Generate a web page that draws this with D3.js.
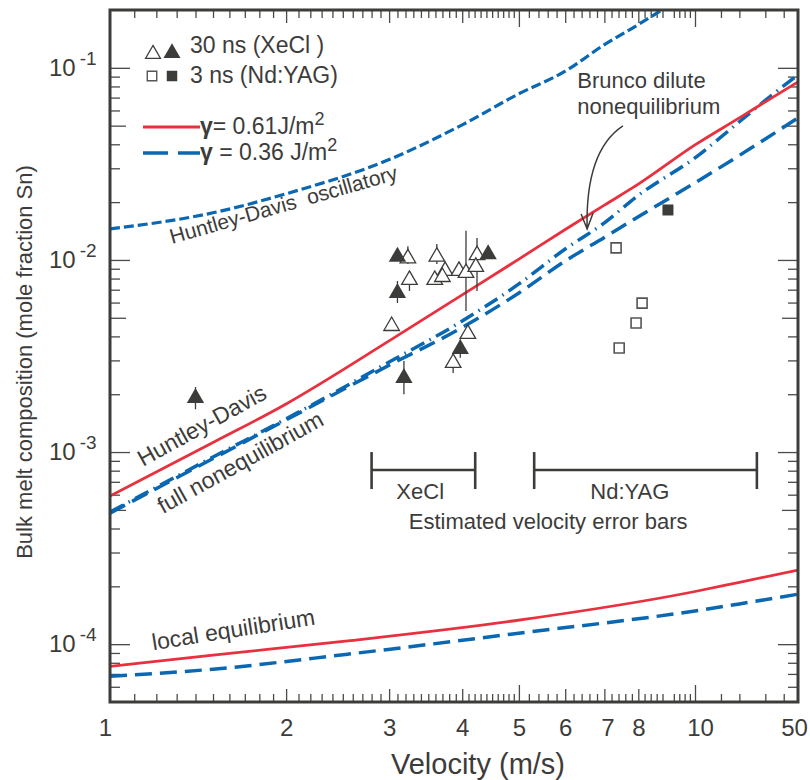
<!DOCTYPE html>
<html>
<head>
<meta charset="utf-8">
<title>Bulk melt composition vs velocity</title>
<script src="https://cdn.jsdelivr.net/npm/d3@7"></script>
<style>
  body { margin: 0; background: #fff; }
  svg { display: block; font-family: "Liberation Sans", Arial, Helvetica, sans-serif; }
  .ticks line { stroke: #4a4a48; stroke-width: 1.3; }
  .ink { fill: #3c3c3a; }
</style>
</head>
<body>
<svg id="chart" width="810" height="780"></svg>
<script>
/* ---------- data ---------- */
// velocity grid (m/s) shared by the upper model curves
const modelVel      = [1, 1.5, 2, 3, 4, 5, 6, 7, 8, 10, 20, 30, 50];
const hdRed         = [5.9e-4, 1.12e-3, 1.78e-3, 3.79e-3, 6.58e-3, 1.01e-2, 1.44e-2, 1.93e-2, 2.48e-2, 3.97e-2, 5.49e-2, 6.65e-2, 8.45e-2];
const fullNoneqBlue = [4.81e-4, 9.25e-4, 1.47e-3, 2.83e-3, 4.45e-3, 6.73e-3, 9.88e-3, 1.31e-2, 1.68e-2, 2.52e-2, 3.50e-2, 4.26e-2, 5.49e-2];
const bruncoBlue    = [4.87e-4, 9.42e-4, 1.49e-3, 2.94e-3, 4.81e-3, 7.5e-3, 1.14e-2, 1.56e-2, 2.17e-2, 3.4e-2, 5.24e-2, 6.77e-2, 9.2e-2];

// Huntley-Davis oscillatory (runs off the top)
const oscVel  = [1, 1.5, 2, 3, 4, 5, 6, 7, 8, 9];
const oscBlue = [0.0145, 0.0176, 0.0221, 0.0333, 0.0505, 0.0733, 0.096, 0.132, 0.168, 0.21];

// local equilibrium
const eqVel  = [1, 1.5, 2.55, 4.88, 10, 20, 50];
const eqRed  = [7.67e-5, 8.77e-5, 1.04e-4, 1.32e-4, 1.88e-4, 2.1e-4, 2.43e-4];
const eqBlue = [6.81e-5, 7.41e-5, 8.87e-5, 1.13e-4, 1.49e-4, 1.62e-4, 1.82e-4];

// measurements: 30 ns XeCl (triangles), 3 ns Nd:YAG (squares)
const xeclFilled = [
  { v: 1.40, c: 1.91e-3, lo: 1.67e-3, hi: 2.18e-3 },
  { v: 3.10, c: 1.04e-2 },
  { v: 3.10, c: 6.73e-3, lo: 5.97e-3, hi: 7.77e-3 },
  { v: 3.18, c: 2.43e-3, lo: 2.00e-3, hi: 2.98e-3 },
  { v: 3.97, c: 3.44e-3, lo: 3.10e-3, hi: 3.85e-3 },
  { v: 4.43, c: 1.07e-2 },
];
const xeclOpen = [
  { v: 3.23, c: 1.02e-2, lo: 9.53e-3, hi: 1.18e-2 },
  { v: 3.25, c: 7.87e-3, lo: 6.90e-3, hi: 8.77e-3 },
  { v: 3.03, c: 4.53e-3 },
  { v: 3.62, c: 1.04e-2, lo: 9.53e-3, hi: 1.21e-2 },
  { v: 3.74, c: 8.77e-3 },
  { v: 3.59, c: 7.87e-3 },
  { v: 3.70, c: 8.15e-3 },
  { v: 3.95, c: 8.77e-3 },
  { v: 4.06, c: 8.56e-3, lo: 5.42e-3, hi: 1.42e-2 },
  { v: 4.24, c: 1.06e-2, lo: 6.90e-3, hi: 1.30e-2 },
  { v: 4.22, c: 9.20e-3 },
  { v: 4.09, c: 4.12e-3 },
  { v: 3.86, c: 2.91e-3, lo: 2.58e-3, hi: 3.28e-3 },
];
const yagOpen   = [
  { v: 7.33, c: 1.155e-2 },
  { v: 8.12, c: 5.96e-3 },
  { v: 7.93, c: 4.70e-3 },
  { v: 7.42, c: 3.48e-3 },
];
const yagFilled = [ { v: 8.99, c: 1.82e-2 } ];

// estimated velocity error bars
const velErrBars = [
  { label: 'XeCl',   lo: 2.80, hi: 4.21, c: 8.06e-4 },
  { label: 'Nd:YAG', lo: 5.31, hi: 26.3, c: 8.06e-4 },
];

// axis ticks
const xLabels = [1, 2, 3, 4, 5, 6, 7, 8, 10, 50];
const xLabelNudge = { 1: -5, 7: 3, 10: 5, 50: -4 };
const xMajor  = [5, 10];
const xMid    = [2, 3, 4, 6, 7, 8];
const xMinor  = [].concat(
  d3.range(1.1, 4.95, 0.1).filter(v => Math.abs(v - Math.round(v)) > 0.01),
  d3.range(5.2, 9.9, 0.2).filter(v => Math.abs(v - Math.round(v)) > 0.01),
  [15, 20, 30, 40]);
const yDecades = [1e-4, 1e-3, 1e-2, 1e-1];
const yExp     = ['-4', '-3', '-2', '-1'];
const yFives   = [5e-4, 5e-3, 5e-2];
const yMinor   = [];
[1e-5, 1e-4, 1e-3, 1e-2, 1e-1].forEach(d => [2, 3, 4, 6, 7, 8, 9].forEach(k => {
  const v = k * d;
  if (v > 5.01e-5 && v < 0.199) yMinor.push(v);
}));

/* ---------- layout ---------- */
const L = 110, R = 798, T = 10, B = 702;
const RED = '#e8303e', BLUE = '#0a67b2', INK = '#3c3c3a';

const x = d3.scaleLog().domain([1, 10, 50]).range([L, 695, R]);   // axis is compressed beyond 10
const y = d3.scaleLog().domain([5e-5, 0.2]).range([B, T]);

const svg = d3.select('#chart');
svg.append('defs').append('clipPath').attr('id', 'plot-clip')
  .append('rect').attr('x', L).attr('y', T).attr('width', R - L).attr('height', B - T);

/* ---------- ticks ---------- */
const ticks = svg.append('g').attr('class', 'ticks');
function xTicks(vals, len) {
  ticks.append('g').attr('transform', `translate(0,${B})`)
    .call(d3.axisBottom(x).tickValues(vals).tickSize(-len).tickFormat(''))
    .call(g => g.select('.domain').remove());
  ticks.append('g').attr('transform', `translate(0,${T})`)
    .call(d3.axisTop(x).tickValues(vals).tickSize(-len).tickFormat(''))
    .call(g => g.select('.domain').remove());
}
function yTicks(vals, len) {
  ticks.append('g').attr('transform', `translate(${L},0)`)
    .call(d3.axisLeft(y).tickValues(vals).tickSize(-len).tickFormat(''))
    .call(g => g.select('.domain').remove());
  ticks.append('g').attr('transform', `translate(${R},0)`)
    .call(d3.axisRight(y).tickValues(vals).tickSize(-len).tickFormat(''))
    .call(g => g.select('.domain').remove());
}
xTicks(xMinor, 8);
xTicks(xMid, 13);
xTicks(xMajor, 17);
yTicks(yMinor, 10);
yTicks(yFives, 16);
yTicks(yDecades, 20);

/* ---------- tick labels ---------- */
svg.append('g').attr('transform', `translate(0,${B})`)
  .call(d3.axisBottom(x).tickValues(xLabels).tickSize(0).tickPadding(17).tickFormat(d3.format('d')))
  .call(g => g.select('.domain').remove())
  .call(g => g.selectAll('text').attr('fill', INK).attr('dx', d => xLabelNudge[d] || 0)
    .style('font-size', '24px').style('font-family', null));

const yl = svg.append('g').selectAll('text').data(yDecades).join('text')
  .attr('class', 'ink').attr('x', 49).attr('y', d => y(d) + 8)
  .style('font-size', '24px');
yl.append('tspan').text('10');
yl.append('tspan').attr('dx', 4).attr('dy', -11).style('font-size', '19px').text((d, i) => yExp[i]);

svg.append('text').attr('class', 'ink')
  .attr('x', 478).attr('y', 774).attr('text-anchor', 'middle')
  .style('font-size', '29px').text('Velocity (m/s)');

svg.append('text').attr('class', 'ink')
  .attr('transform', 'translate(32,362) rotate(-90)').attr('text-anchor', 'middle')
  .style('font-size', '22px').text('Bulk melt composition (mole fraction Sn)');

/* ---------- curves ---------- */
const plot = svg.append('g').attr('clip-path', 'url(#plot-clip)');
const line = d3.line().x(d => x(d[0])).y(d => y(d[1])).curve(d3.curveMonotoneX);
const zipv = (vs, cs) => vs.map((v, i) => [v, cs[i]]);

function curve(pts, color, width, dash) {
  plot.append('path').attr('d', line(pts)).attr('fill', 'none')
    .attr('stroke', color).attr('stroke-width', width)
    .attr('stroke-dasharray', dash || null);
}
curve(zipv(oscVel, oscBlue), BLUE, 3.2, '10,4');
curve(zipv(modelVel, fullNoneqBlue), BLUE, 3.5, '17,8');
curve(zipv(modelVel, bruncoBlue), BLUE, 3.5, '15,6,1.5,6');
curve(zipv(modelVel, hdRed), RED, 2.8);
curve(zipv(eqVel, eqBlue), BLUE, 3.5, '17,8');
curve(zipv(eqVel, eqRed), RED, 2.8);

/* ---------- velocity error bars ---------- */
const eb = svg.append('g').attr('stroke', INK).attr('stroke-width', 2.6);
velErrBars.forEach(b => {
  const yy = y(b.c);
  eb.append('line').attr('x1', x(b.lo)).attr('x2', x(b.hi)).attr('y1', yy).attr('y2', yy);
  eb.append('line').attr('x1', x(b.lo)).attr('x2', x(b.lo)).attr('y1', yy - 18).attr('y2', yy + 19);
  eb.append('line').attr('x1', x(b.hi)).attr('x2', x(b.hi)).attr('y1', yy - 18).attr('y2', yy + 19);
  svg.append('text').attr('class', 'ink')
    .attr('x', Math.sqrt(x(b.lo) * x(b.hi)) + (b.label === 'XeCl' ? 0 : -6)).attr('y', yy + 29)
    .attr('text-anchor', 'middle').style('font-size', '22px').text(b.label);
});
svg.append('text').attr('class', 'ink')
  .attr('x', x(5.61)).attr('y', y(velErrBars[0].c) + 59).attr('text-anchor', 'middle')
  .style('font-size', '22px').text('Estimated velocity error bars');

/* ---------- data points ---------- */
const pts = svg.append('g');
function yBars(data) {
  pts.append('g').attr('stroke', INK).attr('stroke-width', 1.3)
    .selectAll('line').data(data.filter(d => d.lo)).join('line')
    .attr('x1', d => x(d.v)).attr('x2', d => x(d.v))
    .attr('y1', d => y(d.lo)).attr('y2', d => y(d.hi));
}
yBars(xeclOpen);
yBars(xeclFilled);

const tri = d3.symbol().type(d3.symbolTriangle);
const sq  = d3.symbol().type(d3.symbolSquare);
pts.selectAll('.to').data(xeclOpen).join('path').attr('class', 'to')
  .attr('d', tri.size(105)()).attr('transform', d => `translate(${x(d.v)},${y(d.c)})`)
  .attr('fill', '#fff').attr('stroke', INK).attr('stroke-width', 1.3);
pts.selectAll('.tf').data(xeclFilled).join('path').attr('class', 'tf')
  .attr('d', tri.size(130)()).attr('transform', d => `translate(${x(d.v)},${y(d.c)})`)
  .attr('fill', INK);
pts.selectAll('.so').data(yagOpen).join('path').attr('class', 'so')
  .attr('d', sq.size(100)()).attr('transform', d => `translate(${x(d.v)},${y(d.c)})`)
  .attr('fill', '#fff').attr('stroke', '#555').attr('stroke-width', 1.6);
pts.selectAll('.sf').data(yagFilled).join('path').attr('class', 'sf')
  .attr('d', sq.size(121)()).attr('transform', d => `translate(${x(d.v)},${y(d.c)})`)
  .attr('fill', INK);

/* ---------- curve labels ---------- */
const labels = [
  { text: 'Huntley-Davis  oscillatory', v: 1.277, c: 1.21e-2, rot: -16, size: 21 },
  { text: 'Huntley-Davis',             v: 1.139, c: 8.35e-4, rot: -29, size: 23 },
  { text: 'full nonequilibrium',       v: 1.232, c: 4.75e-4, rot: -29, size: 23 },
  { text: 'local equilibrium',         v: 1.185, c: 9.3e-5,  rot: -9,  size: 23 },
  { text: 'Brunco dilute',             v: 6.29,  c: 0.0787,  rot: 0,   size: 22 },
  { text: 'nonequilibrium',            v: 6.29,  c: 0.0575,  rot: 0,   size: 22 },
];
svg.append('g').selectAll('text').data(labels).join('text').attr('class', 'ink')
  .attr('transform', d => `translate(${x(d.v)},${y(d.c)}) rotate(${d.rot})`)
  .style('font-size', d => d.size + 'px').style('white-space', 'pre')
  .text(d => d.text);

// arrow pointing at the Brunco curve
const a0 = [x(7.53), y(0.0499)], ac = [x(6.49), y(0.037)], a1 = [x(6.54), y(1.45e-2)];
const ap = d3.path();
ap.moveTo(a0[0], a0[1]);
ap.quadraticCurveTo(ac[0], ac[1], a1[0], a1[1]);
ap.moveTo(a1[0] - 6, a1[1] - 15);
ap.lineTo(a1[0], a1[1]);
ap.lineTo(a1[0] + 6, a1[1] - 16);
svg.append('path').attr('d', ap.toString()).attr('fill', 'none')
  .attr('stroke', INK).attr('stroke-width', 1.5);

/* ---------- legend ---------- */
const lg = svg.append('g').attr('transform', `translate(${L},${T})`);
lg.append('path').attr('d', tri.size(95)()).attr('transform', 'translate(43,44)')
  .attr('fill', '#fff').attr('stroke', INK).attr('stroke-width', 1.3);
lg.append('path').attr('d', tri.size(125)()).attr('transform', 'translate(62,43)').attr('fill', INK);
lg.append('text').attr('class', 'ink').attr('x', 80).attr('y', 43).style('font-size', '23px').text('30 ns (XeCl )');
lg.append('path').attr('d', sq.size(90)()).attr('transform', 'translate(42,66)')
  .attr('fill', '#fff').attr('stroke', '#555').attr('stroke-width', 1.4);
lg.append('path').attr('d', sq.size(110)()).attr('transform', 'translate(62,66)').attr('fill', INK);
lg.append('text').attr('class', 'ink').attr('x', 80).attr('y', 73).style('font-size', '23px').text('3 ns (Nd:YAG)');

lg.append('line').attr('x1', 33).attr('x2', 90).attr('y1', 117).attr('y2', 117)
  .attr('stroke', RED).attr('stroke-width', 2.8);
const t1 = lg.append('text').attr('class', 'ink').attr('x', 90).attr('y', 124).style('font-size', '23px');
t1.append('tspan').style('font-weight', 'bold').text('γ');
t1.append('tspan').text('= 0.61J/m');
t1.append('tspan').attr('dy', -9).style('font-size', '18px').text('2');

lg.append('line').attr('x1', 33).attr('x2', 90).attr('y1', 143).attr('y2', 143)
  .attr('stroke', BLUE).attr('stroke-width', 3.5).attr('stroke-dasharray', '25,10');
const t2 = lg.append('text').attr('class', 'ink').attr('x', 90).attr('y', 150).style('font-size', '23px');
t2.append('tspan').style('font-weight', 'bold').text('γ');
t2.append('tspan').text(' = 0.36 J/m');
t2.append('tspan').attr('dy', -9).style('font-size', '18px').text('2');

/* ---------- frame ---------- */
svg.append('rect').attr('x', L).attr('y', T).attr('width', R - L).attr('height', B - T)
  .attr('fill', 'none').attr('stroke', INK).attr('stroke-width', 3);
</script>
</body>
</html>
